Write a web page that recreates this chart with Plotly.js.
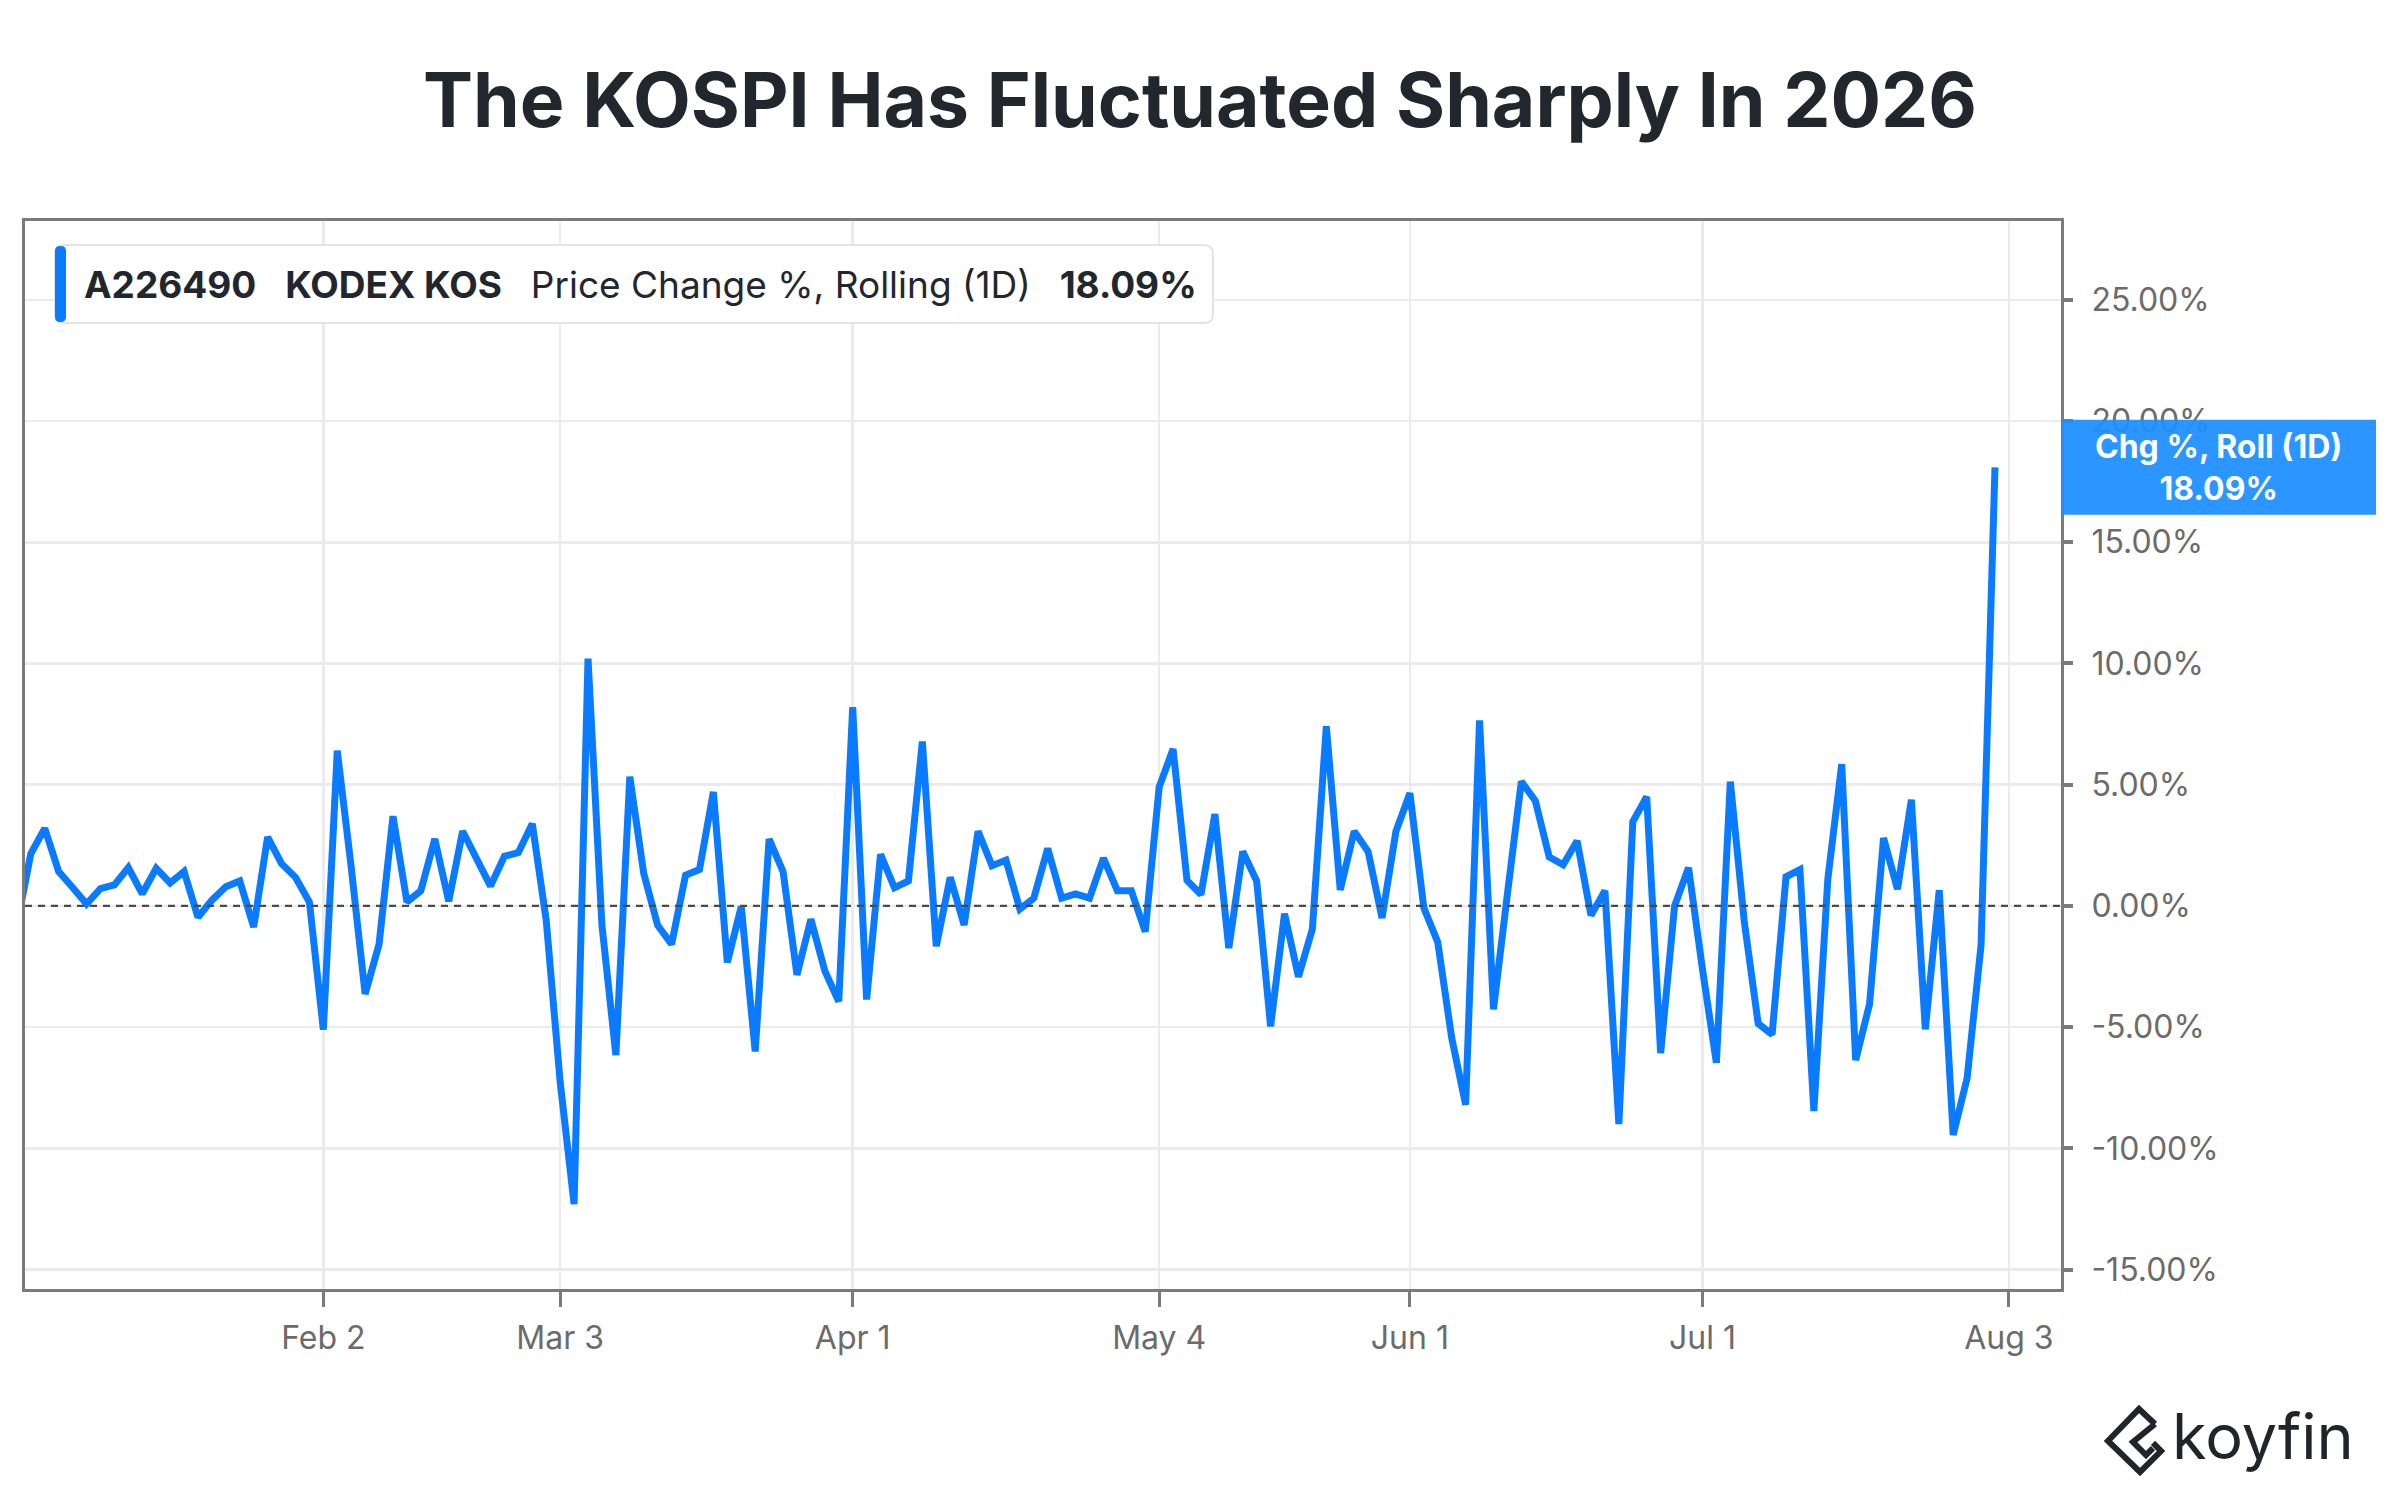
<!DOCTYPE html>
<html>
<head>
<meta charset="utf-8">
<script src="https://cdn.plot.ly/plotly-3.0.1.min.js"></script>
<style>
  html, body { margin: 0; padding: 0; background: #ffffff; }
  #chart { width: 2400px; height: 1500px; }
</style>
</head>
<body>
<div id="chart"></div>
<script>
// ---------------- DATA ----------------
const chartTitle = "The KOSPI Has Fluctuated Sharply In 2026";
const seriesTicker = "A226490";
const seriesName = "KODEX KOS";
const metricName = "Price Change %, Rolling (1D)";
const boxLabel = "Chg %, Roll (1D)";
const brandName = "koyfin";

// trading days (KRX)
const datesDec = ["2025-12-30"];
const datesJan = ["2026-01-02","2026-01-05","2026-01-06","2026-01-07","2026-01-08","2026-01-09","2026-01-12","2026-01-13","2026-01-14","2026-01-15","2026-01-16","2026-01-19","2026-01-20","2026-01-21","2026-01-22","2026-01-23","2026-01-26","2026-01-27","2026-01-28","2026-01-29","2026-01-30"];
const datesFeb = ["2026-02-02","2026-02-03","2026-02-04","2026-02-05","2026-02-06","2026-02-09","2026-02-10","2026-02-11","2026-02-12","2026-02-13","2026-02-19","2026-02-20","2026-02-23","2026-02-24","2026-02-25","2026-02-26","2026-02-27"];
const datesMar = ["2026-03-03","2026-03-04","2026-03-05","2026-03-06","2026-03-09","2026-03-10","2026-03-11","2026-03-12","2026-03-13","2026-03-16","2026-03-17","2026-03-18","2026-03-19","2026-03-20","2026-03-23","2026-03-24","2026-03-25","2026-03-26","2026-03-27","2026-03-30","2026-03-31"];
const datesApr = ["2026-04-01","2026-04-02","2026-04-03","2026-04-06","2026-04-07","2026-04-08","2026-04-09","2026-04-10","2026-04-13","2026-04-14","2026-04-15","2026-04-16","2026-04-17","2026-04-20","2026-04-21","2026-04-22","2026-04-23","2026-04-24","2026-04-27","2026-04-28","2026-04-29","2026-04-30"];
const datesMay = ["2026-05-04","2026-05-06","2026-05-07","2026-05-08","2026-05-11","2026-05-12","2026-05-13","2026-05-14","2026-05-15","2026-05-18","2026-05-19","2026-05-20","2026-05-21","2026-05-22","2026-05-26","2026-05-27","2026-05-28","2026-05-29"];
const datesJun = ["2026-06-01","2026-06-02","2026-06-04","2026-06-05","2026-06-08","2026-06-09","2026-06-10","2026-06-11","2026-06-12","2026-06-15","2026-06-16","2026-06-17","2026-06-18","2026-06-19","2026-06-22","2026-06-23","2026-06-24","2026-06-25","2026-06-26","2026-06-29","2026-06-30"];
const datesJul = ["2026-07-01","2026-07-02","2026-07-03","2026-07-06","2026-07-07","2026-07-08","2026-07-09","2026-07-10","2026-07-13","2026-07-14","2026-07-15","2026-07-16","2026-07-20","2026-07-21","2026-07-22","2026-07-23","2026-07-24","2026-07-27","2026-07-28","2026-07-29","2026-07-30","2026-07-31"];

// daily price change, %
const chgDec = [-0.8];
const chgJan = [2.15,3.2,1.42,0.76,0.08,0.71,0.87,1.58,0.5,1.55,0.95,1.42,-0.47,0.24,0.79,1.03,-0.87,2.84,1.74,1.18,0.16];
const chgFeb = [-5.1,6.4,1.6,-3.63,-1.58,3.7,0.16,0.63,2.76,0.19,3.08,1.97,0.82,2.05,2.2,3.39,-0.6];
const chgMar = [-7.26,-12.3,10.2,-0.8,-6.15,5.33,1.34,-0.8,-1.58,1.26,1.5,4.7,-2.33,-0.03,-6.0,2.76,1.42,-2.84,-0.55,-2.68,-3.94];
const chgApr = [8.2,-3.86,2.13,0.75,1.03,6.78,-1.66,1.18,-0.79,3.08,1.66,1.89,-0.13,0.32,2.37,0.32,0.5,0.32,1.97,0.63,0.63,-1.06];
const chgMay = [4.9,6.47,1.05,0.47,3.79,-1.74,2.24,1.03,-4.97,-0.32,-2.92,-0.95,7.41,0.66,3.08,2.24,-0.5,3.08];
const chgJun = [4.65,-0.08,-1.5,-5.44,-8.2,7.65,-4.26,0.5,5.13,4.34,2.02,1.7,2.68,-0.39,0.63,-9.0,3.47,4.5,-6.07,0.0,1.58];
const chgJul = [-2.6,-6.47,5.13,-0.63,-4.85,-5.3,1.2,1.5,-8.46,1.1,5.85,-6.36,-4.04,2.8,0.69,4.38,-5.09,0.65,-9.45,-7.1,-1.62,18.09];

// market holidays (removed from the date axis)
const holidays = ["2025-12-31","2026-01-01","2026-02-16","2026-02-17","2026-02-18","2026-03-02","2026-05-01","2026-05-05","2026-05-25","2026-06-03","2026-07-17"];

const xTickVals = ["2026-02-02","2026-03-03","2026-04-01","2026-05-04","2026-06-01","2026-07-01","2026-08-03"];
const xTickText = ["Feb 2","Mar 3","Apr 1","May 4","Jun 1","Jul 1","Aug 3"];
const yTickVals = [-15,-10,-5,0,5,10,15,20,25];

// ---------------- BUILD ----------------
const dates = [].concat(datesDec, datesJan, datesFeb, datesMar, datesApr, datesMay, datesJun, datesJul);
const changePct = [].concat(chgDec, chgJan, chgFeb, chgMar, chgApr, chgMay, chgJun, chgJul);
const lastVal = changePct[changePct.length - 1];
const lastTxt = lastVal.toFixed(2) + "%";
const yTickText = yTickVals.map(v => v.toFixed(2) + "%");

// plot-area geometry (pixels)
const W = 2400, H = 1500;
const PL = 25, PR = 2061, PT = 221, PB = 1289;
const px = x => (x - PL) / (PR - PL);
const py = y => (PB - y) / (PB - PT);

function roundRectPath(x0, y0, x1, y1, r) {
  const P = (x, y) => px(x).toFixed(5) + "," + py(y).toFixed(5);
  return "M" + P(x0 + r, y0) +
    " L" + P(x1 - r, y0) + " Q" + P(x1, y0) + " " + P(x1, y0 + r) +
    " L" + P(x1, y1 - r) + " Q" + P(x1, y1) + " " + P(x1 - r, y1) +
    " L" + P(x0 + r, y1) + " Q" + P(x0, y1) + " " + P(x0, y1 - r) +
    " L" + P(x0, y0 + r) + " Q" + P(x0, y0) + " " + P(x0 + r, y0) + " Z";
}
function polyPath(pts) {
  return pts.map((p, i) => (i ? "L" : "M") + px(p[0]).toFixed(5) + "," + py(p[1]).toFixed(5)).join(" ");
}

const BLUE = "#0A7BFF";
const GRID = "#ebebeb";
const AXIS = "#7b7b7b";
const TXT = "#6b6b6b";
const FONT = "Inter, 'Noto Sans', sans-serif";

const trace = {
  type: "scatter",
  mode: "lines",
  x: dates,
  y: changePct,
  line: { color: BLUE, width: 7 },
  hoverinfo: "x+y",
  showlegend: false
};

const layout = {
  width: W, height: H,
  autosize: false,
  paper_bgcolor: "#ffffff",
  plot_bgcolor: "#ffffff",
  margin: { l: PL, r: W - PR, t: PT, b: H - PB, pad: 0 },
  showlegend: false,
  font: { family: FONT, color: TXT, size: 31 },
  title: {
    text: "<b>" + chartTitle + "</b>",
    x: 0.5, xref: "container", xanchor: "center",
    y: 1 - 101 / H, yref: "container", yanchor: "middle",
    font: { family: FONT, size: 75, color: "#22272e" }
  },
  xaxis: {
    type: "date",
    range: ["2025-12-30 14:00", "2026-08-06 17:45"],
    rangebreaks: [
      { bounds: ["sat", "mon"] },
      { values: holidays }
    ],
    tickmode: "array",
    tickvals: xTickVals,
    ticktext: xTickText,
    ticks: "outside", ticklen: 15, tickwidth: 3, tickcolor: AXIS,
    tickfont: { family: FONT, size: 32, color: TXT },
    ticklabelstandoff: 4,
    showgrid: true, gridcolor: GRID, gridwidth: 2.5,
    showline: true, linecolor: AXIS, linewidth: 3, mirror: true,
    zeroline: false,
    automargin: false,
    fixedrange: true
  },
  yaxis: {
    side: "right",
    range: [-15.8, 28.25],
    tickmode: "array",
    tickvals: yTickVals,
    ticktext: yTickText,
    ticks: "outside", ticklen: 9, tickwidth: 4, tickcolor: AXIS,
    tickfont: { family: FONT, size: 32, color: TXT },
    ticklabelstandoff: 12,
    showgrid: true, gridcolor: GRID, gridwidth: 2.5,
    showline: true, linecolor: AXIS, linewidth: 3, mirror: true,
    zeroline: false,
    automargin: false,
    fixedrange: true
  },
  shapes: [
    { type: "line", xref: "paper", yref: "y", x0: 0, x1: 1, y0: 0, y1: 0,
      line: { color: "#4a4a4a", width: 2.2, dash: "7px,6px" }, layer: "above" },
    { type: "path", xref: "paper", yref: "paper", layer: "above",
      path: roundRectPath(55, 245, 1213, 323, 9),
      fillcolor: "#ffffff", line: { color: "#e4e4e4", width: 2 } },
    { type: "path", xref: "paper", yref: "paper", layer: "above",
      path: roundRectPath(55, 246, 66, 322, 5),
      fillcolor: BLUE, line: { width: 0 } },
    { type: "rect", xref: "paper", yref: "y", layer: "above",
      x0: 1, x1: px(2376), y0: lastVal - 1.96, y1: lastVal + 1.96,
      fillcolor: "#1E8FFF", opacity: 0.94, line: { width: 0 } },
    { type: "path", xref: "paper", yref: "paper", layer: "above",
      path: polyPath([[2155, 1424], [2139, 1409], [2108, 1441], [2140, 1472], [2161, 1451], [2153, 1443]]),
      line: { color: "#1f252b", width: 6 } },
    { type: "path", xref: "paper", yref: "paper", layer: "above",
      path: polyPath([[2155, 1424], [2133, 1442], [2146, 1455], [2153, 1448]]),
      line: { color: "#1f252b", width: 6 } }
  ],
  annotations: [
    { xref: "paper", yref: "paper", x: px(82), y: py(284),
      xanchor: "left", yanchor: "middle", showarrow: false,
      text: "<b>" + seriesTicker + "</b>\u2002\u00A0<b>" + seriesName + "</b>\u2002\u00A0" + metricName + "\u2002\u00A0<b>" + lastTxt + "</b>",
      font: { family: FONT, size: 37, color: "#22272e" } },
    { xref: "paper", yref: "y", x: px(2218), y: lastVal,
      xanchor: "center", yanchor: "middle", showarrow: false, align: "center",
      text: "<b>" + boxLabel + "</b><br><b>" + lastTxt + "</b>",
      font: { family: FONT, size: 32, color: "#ffffff" } },
    { xref: "paper", yref: "paper", x: px(2170), y: py(1436),
      xanchor: "left", yanchor: "middle", showarrow: false,
      text: brandName,
      font: { family: FONT, size: 63, color: "#1f252b" } }
  ]
};

Plotly.newPlot("chart", [trace], layout, { staticPlot: true, displayModeBar: false });
</script>
</body>
</html>
